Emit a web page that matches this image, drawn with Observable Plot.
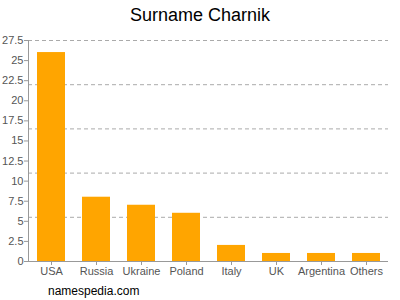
<!DOCTYPE html>
<html><head>
<meta charset="utf-8">
<script src="https://cdn.jsdelivr.net/npm/d3@7"></script>
<script src="https://cdn.jsdelivr.net/npm/@observablehq/plot@0.6"></script>
<style>
body{margin:0;font-family:"Liberation Sans",Arial,sans-serif;background:#fff;}
#wrap{position:relative;width:400px;height:300px;background:#fff;overflow:hidden;}
#title{position:absolute;top:0;left:0;width:400px;text-align:center;font-size:18px;line-height:30px;color:#000;}
#chart{position:absolute;top:30px;left:0;}
#cap{position:absolute;left:48px;top:284px;font-size:12px;color:#000;}
</style></head><body>
<div id="wrap">
<div id="title">Surname Charnik</div>
<div id="chart"></div>
<div id="cap">namespedia.com</div>
</div>
<script>
const countries = ["USA","Russia","Ukraine","Poland","Italy","UK","Argentina","Others"];
const counts = [26, 8, 7, 6, 2, 1, 1, 1];
const yTicks = [0,2.5,5,7.5,10,12.5,15,17.5,20,22.5,25,27.5];
const gridValues = [5.5, 11, 16.5, 22, 27.5];
const data = countries.map((c,i)=>({country:c, count:counts[i]}));

const chart = Plot.plot({
  width: 400,
  height: 250,
  marginLeft: 28,
  marginRight: 12,
  marginTop: 10,
  marginBottom: 19,
  style: {fontFamily: '"Liberation Sans", Arial, sans-serif', fontSize: "11px", color: "#555", background: "#fff"},
  x: {domain: countries, paddingInner: 0.38, paddingOuter: 0.18, label: null},
  y: {domain: [0, 27.5], label: null},
  marks: [
    Plot.ruleY(gridValues, {stroke: "#aaa", strokeDasharray: "4,3", strokeWidth: 1}),
    Plot.barY(data, {x: "country", y: "count", fill: "#FFA500"}),
    Plot.axisY({ticks: yTicks, tickSize: 4, tickPadding: 1, stroke: "#999", fill: "#555", label: null, tickFormat: d => String(d)}),
    Plot.axisX({tickSize: 4, tickPadding: 2, stroke: "#999", fill: "#555", label: null}),
    Plot.ruleY([0], {stroke: "#999"}),
    Plot.frame({anchor: "left", stroke: "#999"})
  ]
});
document.getElementById("chart").appendChild(chart);
</script>
</body></html>
